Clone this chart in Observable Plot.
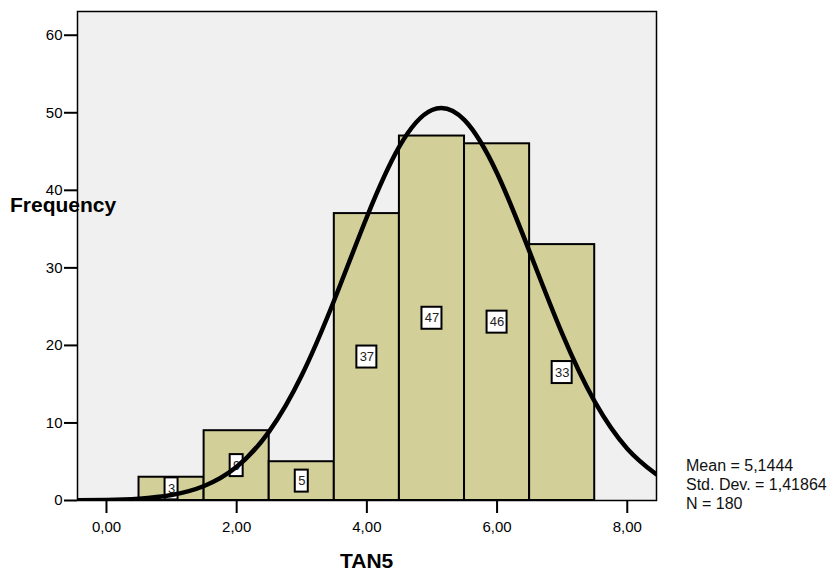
<!DOCTYPE html>
<html><head><meta charset="utf-8">
<script src="https://cdn.jsdelivr.net/npm/d3@7"></script>
<script src="https://cdn.jsdelivr.net/npm/@observablehq/plot@0.6"></script>
<style>
body{margin:0;background:#fff;font-family:"Liberation Sans",Arial,sans-serif;}
#wrap{position:relative;width:832px;height:575px;}
#chart{position:absolute;left:0;top:0;}
.lbl{position:absolute;font-weight:bold;color:#000;white-space:nowrap;font-size:21px;line-height:21px;}
#ylab{left:10px;top:194px;}
#xlab{left:340px;top:550px;}
#stats{position:absolute;left:686px;top:456px;font-size:16px;line-height:19px;color:#111;white-space:nowrap;}
</style>
</head><body>
<div id="wrap">
  <div id="chart"></div>
  <div class="lbl" id="ylab">Frequency</div>
  <div class="lbl" id="xlab">TAN5</div>
  <div id="stats"></div>
</div>
<script>
// Histogram bins and counts (TAN5)
const binLow = [0.5, 1.5, 2.5, 3.5, 4.5, 5.5, 6.5];
const binHigh = [1.5, 2.5, 3.5, 4.5, 5.5, 6.5, 7.5];
const counts = [3, 9, 5, 37, 47, 46, 33];

// Normal curve
const curveX = [-0.445, 0, 0.5, 1, 1.5, 2, 2.5, 3, 3.5, 4, 4.5, 5, 5.5, 6, 6.5, 7, 7.5, 8, 8.44];
const curveY = [0.02, 0.07, 0.24, 0.71, 1.87, 4.34, 8.92, 16.15, 25.86, 36.56, 45.66, 50.36, 49.05, 42.2, 32.07, 21.51, 12.75, 6.68, 3.41];

// Axis ticks
const yTicks = [0, 10, 20, 30, 40, 50, 60];
const xTicks = [0, 2, 4, 6, 8];

// Summary statistics
const statLines = ["Mean = 5,1444", "Std. Dev. = 1,41864", "N = 180"];

const bars = counts.map((c, i) => ({x1: binLow[i], x2: binHigh[i], y: c}));
const labels = counts.map((c, i) => ({x: (binLow[i] + binHigh[i]) / 2, y: c / 2, label: String(c)}));
const curve = curveX.map((x, i) => ({x, y: curveY[i]}));
const fmtX = d => d.toFixed(2).replace(".", ",");

const plot = Plot.plot({
  width: 832,
  height: 575,
  marginLeft: 77,
  marginRight: 176,
  marginTop: 11,
  marginBottom: 75,
  style: {fontFamily: "'Liberation Sans', Arial, sans-serif", background: "transparent"},
  x: {domain: [-0.445, 8.449]},
  y: {domain: [0, 63.06]},
  marks: [
    Plot.frame({fill: "#f0f0f0"}),
    Plot.rectY(bars, {x1: "x1", x2: "x2", y: "y", fill: "#d3cf99", stroke: "#000", strokeWidth: 2}),
    Plot.rect(labels.filter(d => d.label.length > 1), {x1: "x", x2: "x", y1: "y", y2: "y",
      insetLeft: -10, insetRight: -10, insetTop: -11, insetBottom: -11, fill: "#fff", stroke: "#000", strokeWidth: 2}),
    Plot.rect(labels.filter(d => d.label.length === 1), {x1: "x", x2: "x", y1: "y", y2: "y",
      insetLeft: -6.5, insetRight: -6.5, insetTop: -11, insetBottom: -11, fill: "#fff", stroke: "#000", strokeWidth: 2}),
    Plot.text(labels, {x: "x", y: "y", text: "label", fontSize: 13, fill: "#222"}),
    Plot.line(curve, {x: "x", y: "y", curve: "natural", stroke: "#000", strokeWidth: 4.5, clip: true}),
    Plot.frame({stroke: "#000", strokeWidth: 1.5}),
    Plot.axisY({ticks: yTicks, tickSize: 13, tickPadding: 2, strokeWidth: 2, fontSize: 15, tickFormat: d => String(d), label: null}),
    Plot.axisX({ticks: xTicks, tickSize: 13, tickPadding: 8, strokeWidth: 2, fontSize: 15, tickFormat: fmtX, label: null})
  ]
});
document.getElementById("chart").appendChild(plot);
document.getElementById("stats").innerHTML = statLines.map(s => `<div>${s}</div>`).join("");
</script>
</body></html>
